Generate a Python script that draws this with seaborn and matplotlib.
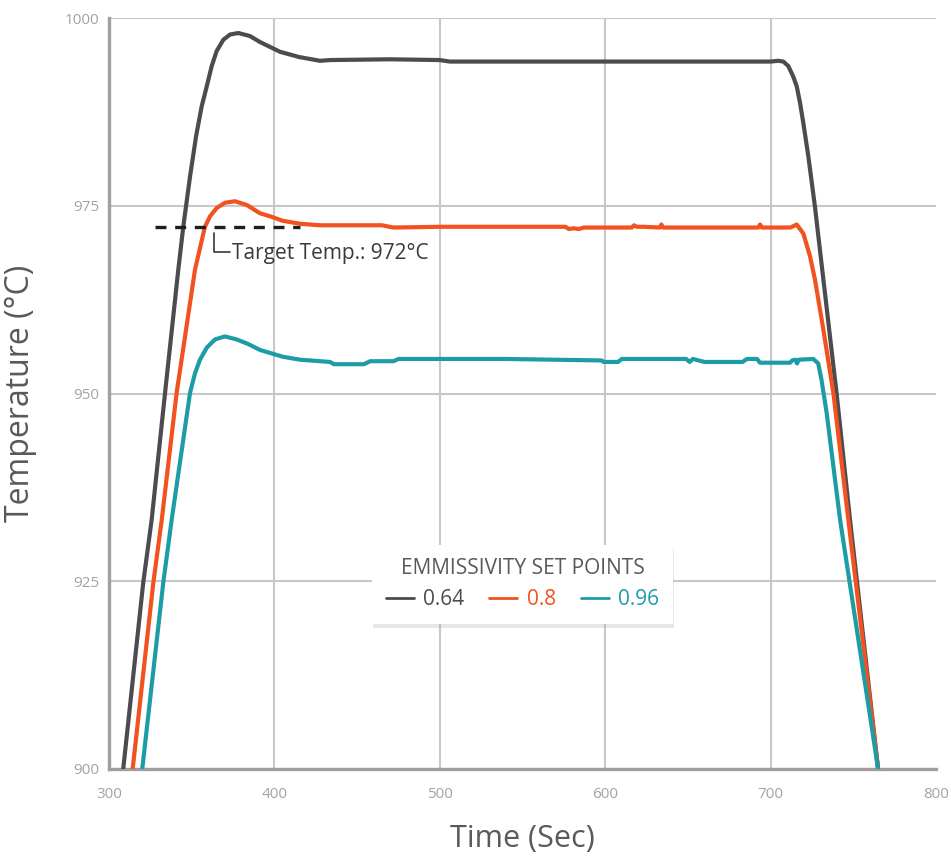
import numpy as np
import pandas as pd
import matplotlib
matplotlib.use("Agg")
import matplotlib.pyplot as plt
import seaborn as sns

# emissivity 0.64 (dark grey)
time_064 = [308.6, 320.7, 325.8, 333.9, 341.9, 344.9, 349.0, 352.6, 356.0, 359.1, 362.1, 365.1,
            369.1, 373.2, 378.2, 385.2, 391.3, 403.4, 415.0, 427.6, 433.6, 470.0, 500.0, 506.0,
            600.0, 700.0, 704.6, 707.7, 710.7, 713.7, 715.8, 717.8, 719.8, 722.8, 726.8, 731.9,
            739.9, 748.0, 765.0]
temp_064 = [900.0, 924.8, 933.2, 950.1, 966.5, 972.2, 978.9, 984.2, 988.2, 990.9, 993.6, 995.6,
            997.1, 997.8, 998.0, 997.6, 996.8, 995.5, 994.8, 994.3, 994.4, 994.5, 994.4, 994.2,
            994.2, 994.2, 994.3, 994.2, 993.6, 992.2, 990.9, 988.7, 986.0, 981.6, 974.9, 965.2,
            950.0, 933.2, 900.0]

# emissivity 0.8 (orange)
time_080 = [314.3, 326.8, 331.9, 340.9, 352.0, 358.0, 361.1, 365.1, 370.1, 376.2, 383.3, 391.3,
            397.3, 405.0, 415.5, 427.6, 465.0, 472.0, 500.0, 576.0, 578.0, 581.0, 584.0, 587.0,
            616.0, 617.5, 619.0, 623.0, 633.0, 634.0, 635.0, 692.5, 693.6, 694.8, 712.0, 715.8,
            719.8, 723.8, 726.8, 731.9, 738.0, 747.0, 765.0]
temp_080 = [900.0, 924.8, 933.2, 950.1, 966.5, 972.2, 973.6, 974.7, 975.4, 975.6, 975.1, 974.0,
            973.6, 973.0, 972.6, 972.4, 972.4, 972.1, 972.2, 972.2, 971.9, 972.0, 971.9, 972.1,
            972.1, 972.4, 972.2, 972.2, 972.1, 972.5, 972.1, 972.1, 972.5, 972.1, 972.1, 972.5,
            971.3, 968.3, 965.2, 958.5, 950.0, 933.2, 900.0]

# emissivity 0.96 (teal)
time_096 = [320.1, 332.8, 337.9, 349.0, 352.0, 355.0, 359.1, 364.1, 370.1, 377.2, 384.0, 391.3,
            405.0, 415.5, 433.6, 436.0, 454.0, 458.0, 472.0, 475.0, 540.0, 597.9, 599.0, 607.8,
            610.0, 649.0, 651.0, 653.0, 660.0, 683.0, 685.7, 691.8, 693.6, 711.8, 713.0, 715.0,
            716.0, 717.0, 725.8, 728.8, 730.8, 733.9, 742.0, 765.0]
temp_096 = [900.0, 924.8, 933.2, 950.1, 952.7, 954.5, 956.1, 957.2, 957.6, 957.2, 956.6, 955.8,
            954.9, 954.5, 954.2, 953.9, 953.9, 954.3, 954.3, 954.6, 954.6, 954.4, 954.2, 954.2,
            954.6, 954.6, 954.2, 954.6, 954.2, 954.2, 954.6, 954.6, 954.1, 954.1, 954.4, 954.5,
            954.0, 954.5, 954.6, 954.0, 951.8, 947.4, 933.2, 900.0]

labels = ["0.64", "0.8", "0.96"]
colors = ["#4b4b50", "#f1521f", "#1c9da6"]

target_temp = 972.2
target_x = [327.8, 415.5]

x_ticks = [300, 400, 500, 600, 700, 800]
y_ticks = [900, 925, 950, 975, 1000]

frames = []
for lab, t, v in zip(labels, [time_064, time_080, time_096], [temp_064, temp_080, temp_096]):
    frames.append(pd.DataFrame({"time": t, "temp": v, "emissivity": lab}))
df = pd.concat(frames, ignore_index=True)

sns.set_style("white")
plt.rcParams["font.family"] = ["Open Sans", "DejaVu Sans"]

fig = plt.figure(figsize=(9.51, 8.59), dpi=100)
ax = fig.add_axes([109 / 951, 1 - 769 / 859, 827 / 951, 751 / 859])

sns.lineplot(data=df, x="time", y="temp", hue="emissivity", palette=colors,
             hue_order=labels, estimator=None, sort=False, linewidth=3, ax=ax, zorder=3)

# target temperature marker
ax.plot(target_x, [target_temp, target_temp], color="#1e1e1e", linewidth=2.4,
        dashes=(3.3, 2.6), zorder=4)
ax.plot([363.5, 363.5, 373.2], [971.4, 968.9, 968.9], color="#3a3a3a", linewidth=1.2, zorder=4)
ax.text(374.4, 968.7, "Target Temp.: 972°C", fontsize=15, color="#3a3a3a", va="center", ha="left")

ax.set_xlim(300, 800)
ax.set_ylim(900, 1000)
ax.set_xticks(x_ticks)
ax.set_yticks(y_ticks)
ax.grid(True, color="#c8c8c8", linewidth=1.5)
ax.set_axisbelow(True)
ax.xaxis.get_gridlines()[-1].set_visible(False)
ax.xaxis.get_gridlines()[0].set_visible(False)

for side in ["top", "right"]:
    ax.spines[side].set_visible(False)
for side in ["left", "bottom"]:
    ax.spines[side].set_color("#a19da1")
    ax.spines[side].set_linewidth(2.4)

ax.tick_params(axis="both", length=0, labelsize=11, labelcolor="#a3a3a3")
ax.tick_params(axis="y", pad=7)
ax.tick_params(axis="x", pad=13)

ax.set_xlabel("Time (Sec)", fontsize=22, color="#58595b")
ax.set_ylabel("Temperature (°C)", fontsize=23, color="#58595b")
ax.xaxis.set_label_coords(0.5, -0.073)
ax.yaxis.set_label_coords(-0.087, 0.5)

handles, _ = ax.get_legend_handles_labels()
leg = ax.legend(handles, labels, title="EMMISSIVITY SET POINTS", ncol=3, loc="center",
                bbox_to_anchor=(0.5, 0.246), fontsize=15, title_fontsize=15,
                labelcolor="linecolor", frameon=True, fancybox=False,
                handlelength=1.35, handletextpad=0.45, columnspacing=1.2,
                borderpad=0.65, borderaxespad=0,
                shadow={"ox": 1, "oy": -3, "facecolor": "#b0b0b0", "edgecolor": "none", "alpha": 0.3})
leg.get_frame().set_facecolor("white")
leg.get_frame().set_edgecolor("none")
leg.get_title().set_color("#58595b")
for line in leg.get_lines():
    line.set_linewidth(2)
leg.set_zorder(5)

plt.savefig("out.png", dpi=100)
